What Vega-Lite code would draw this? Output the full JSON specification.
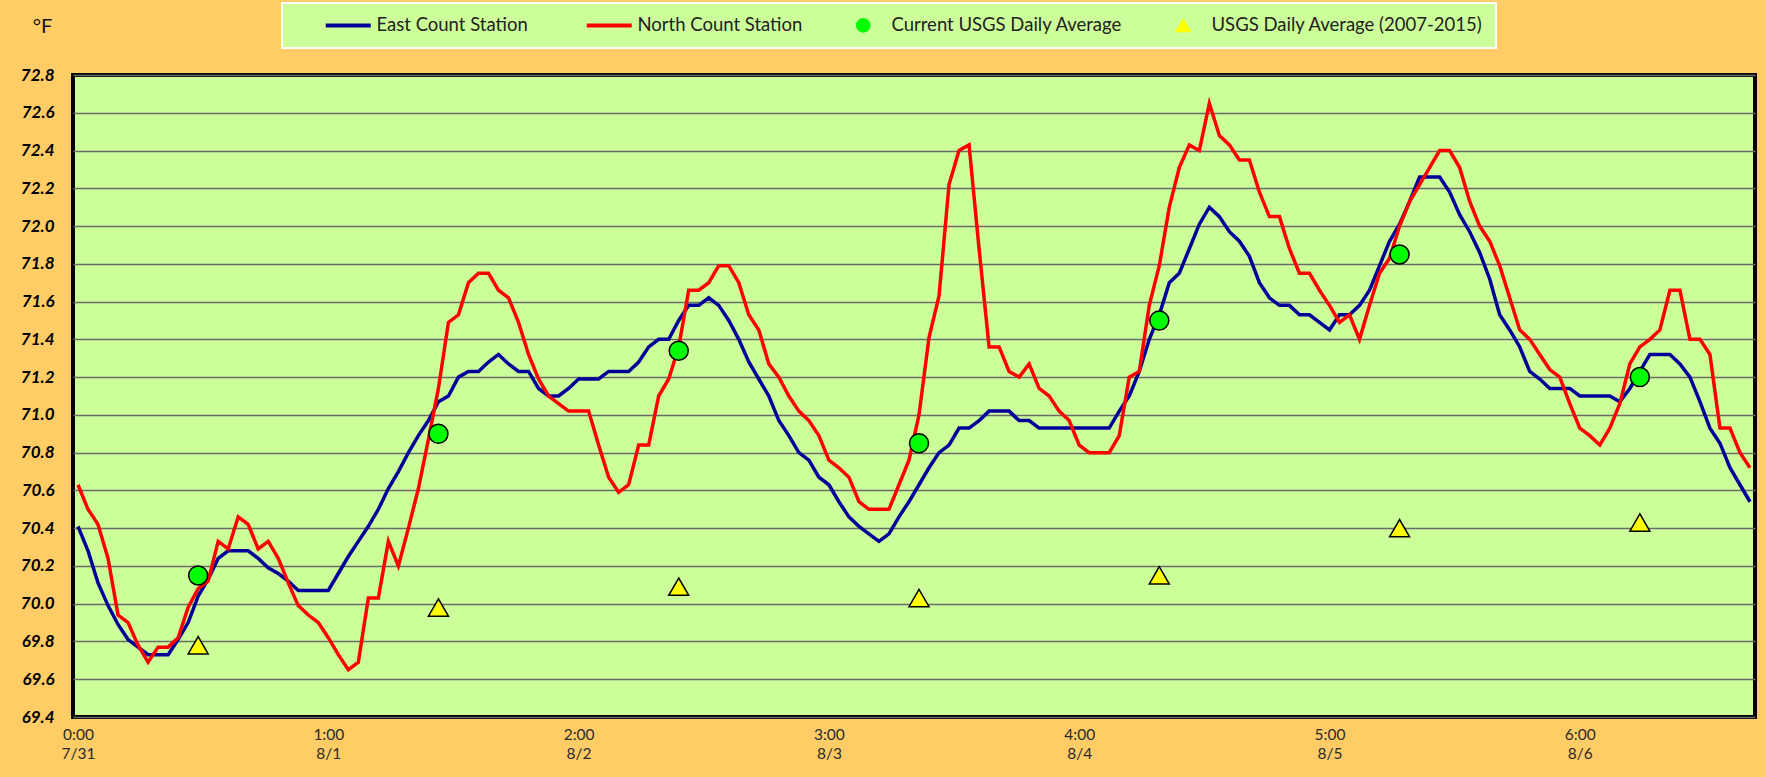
{
  "$schema": "https://vega.github.io/schema/vega-lite/v6.json",
  "width": 1682,
  "height": 642,
  "autosize": {"type": "none"},
  "padding": {"left": 73, "top": 75, "right": 10, "bottom": 60},
  "background": "#FFCC66",
  "config": {
    "font": "Lato",
    "view": {"fill": "#CCFF99", "stroke": "#000000", "strokeWidth": 4}
  },
  "datasets": {
    "hourly": [
      {"h":0,"e":70.41,"n":70.63},{"h":1,"e":70.28,"n":70.50},{"h":2,"e":70.11,"n":70.42},{"h":3,"e":69.99,"n":70.24},{"h":4,"e":69.89,"n":69.94},{"h":5,"e":69.81,"n":69.90},{"h":6,"e":69.77,"n":69.78},{"h":7,"e":69.73,"n":69.69},{"h":8,"e":69.73,"n":69.77},{"h":9,"e":69.73,"n":69.77},
      {"h":10,"e":69.81,"n":69.82},{"h":11,"e":69.90,"n":69.98},{"h":12,"e":70.04,"n":70.08},{"h":13,"e":70.13,"n":70.12},{"h":14,"e":70.24,"n":70.33},{"h":15,"e":70.28,"n":70.29},{"h":16,"e":70.28,"n":70.46},{"h":17,"e":70.28,"n":70.42},{"h":18,"e":70.24,"n":70.29},{"h":19,"e":70.19,"n":70.33},
      {"h":20,"e":70.16,"n":70.24},{"h":21,"e":70.12,"n":70.11},{"h":22,"e":70.07,"n":69.99},{"h":23,"e":70.07,"n":69.94},{"h":24,"e":70.07,"n":69.90},{"h":25,"e":70.07,"n":69.82},{"h":26,"e":70.16,"n":69.73},{"h":27,"e":70.25,"n":69.65},{"h":28,"e":70.33,"n":69.69},{"h":29,"e":70.41,"n":70.03},
      {"h":30,"e":70.50,"n":70.03},{"h":31,"e":70.61,"n":70.33},{"h":32,"e":70.70,"n":70.20},{"h":33,"e":70.80,"n":70.40},{"h":34,"e":70.89,"n":70.61},{"h":35,"e":70.97,"n":70.87},{"h":36,"e":71.07,"n":71.14},{"h":37,"e":71.10,"n":71.49},{"h":38,"e":71.20,"n":71.53},{"h":39,"e":71.23,"n":71.70},
      {"h":40,"e":71.23,"n":71.75},{"h":41,"e":71.28,"n":71.75},{"h":42,"e":71.32,"n":71.66},{"h":43,"e":71.27,"n":71.62},{"h":44,"e":71.23,"n":71.49},{"h":45,"e":71.23,"n":71.32},{"h":46,"e":71.14,"n":71.19},{"h":47,"e":71.10,"n":71.10},{"h":48,"e":71.10,"n":71.06},{"h":49,"e":71.14,"n":71.02},
      {"h":50,"e":71.19,"n":71.02},{"h":51,"e":71.19,"n":71.02},{"h":52,"e":71.19,"n":70.84},{"h":53,"e":71.23,"n":70.67},{"h":54,"e":71.23,"n":70.59},{"h":55,"e":71.23,"n":70.63},{"h":56,"e":71.28,"n":70.84},{"h":57,"e":71.36,"n":70.84},{"h":58,"e":71.40,"n":71.10},{"h":59,"e":71.40,"n":71.19},
      {"h":60,"e":71.50,"n":71.36},{"h":61,"e":71.58,"n":71.66},{"h":62,"e":71.58,"n":71.66},{"h":63,"e":71.62,"n":71.70},{"h":64,"e":71.58,"n":71.79},{"h":65,"e":71.50,"n":71.79},{"h":66,"e":71.40,"n":71.70},{"h":67,"e":71.28,"n":71.53},{"h":68,"e":71.19,"n":71.45},{"h":69,"e":71.10,"n":71.27},
      {"h":70,"e":70.97,"n":71.20},{"h":71,"e":70.89,"n":71.10},{"h":72,"e":70.80,"n":71.02},{"h":73,"e":70.76,"n":70.97},{"h":74,"e":70.67,"n":70.89},{"h":75,"e":70.63,"n":70.76},{"h":76,"e":70.54,"n":70.72},{"h":77,"e":70.46,"n":70.67},{"h":78,"e":70.41,"n":70.54},{"h":79,"e":70.37,"n":70.50},
      {"h":80,"e":70.33,"n":70.50},{"h":81,"e":70.37,"n":70.50},{"h":82,"e":70.46,"n":70.63},{"h":83,"e":70.54,"n":70.76},{"h":84,"e":70.63,"n":71.00},{"h":85,"e":70.72,"n":71.41},{"h":86,"e":70.80,"n":71.63},{"h":87,"e":70.84,"n":72.22},{"h":88,"e":70.93,"n":72.40},{"h":89,"e":70.93,"n":72.43},
      {"h":90,"e":70.97,"n":71.88},{"h":91,"e":71.02,"n":71.36},{"h":92,"e":71.02,"n":71.36},{"h":93,"e":71.02,"n":71.23},{"h":94,"e":70.97,"n":71.20},{"h":95,"e":70.97,"n":71.27},{"h":96,"e":70.93,"n":71.14},{"h":97,"e":70.93,"n":71.10},{"h":98,"e":70.93,"n":71.02},{"h":99,"e":70.93,"n":70.97},
      {"h":100,"e":70.93,"n":70.84},{"h":101,"e":70.93,"n":70.80},{"h":102,"e":70.93,"n":70.80},{"h":103,"e":70.93,"n":70.80},{"h":104,"e":71.02,"n":70.89},{"h":105,"e":71.10,"n":71.20},{"h":106,"e":71.23,"n":71.23},{"h":107,"e":71.40,"n":71.58},{"h":108,"e":71.53,"n":71.79},{"h":109,"e":71.70,"n":72.10},
      {"h":110,"e":71.75,"n":72.31},{"h":111,"e":71.88,"n":72.43},{"h":112,"e":72.01,"n":72.40},{"h":113,"e":72.10,"n":72.65},{"h":114,"e":72.05,"n":72.48},{"h":115,"e":71.97,"n":72.43},{"h":116,"e":71.92,"n":72.35},{"h":117,"e":71.84,"n":72.35},{"h":118,"e":71.70,"n":72.18},{"h":119,"e":71.62,"n":72.05},
      {"h":120,"e":71.58,"n":72.05},{"h":121,"e":71.58,"n":71.88},{"h":122,"e":71.53,"n":71.75},{"h":123,"e":71.53,"n":71.75},{"h":124,"e":71.49,"n":71.66},{"h":125,"e":71.45,"n":71.58},{"h":126,"e":71.53,"n":71.49},{"h":127,"e":71.53,"n":71.53},{"h":128,"e":71.58,"n":71.40},{"h":129,"e":71.66,"n":71.58},
      {"h":130,"e":71.79,"n":71.75},{"h":131,"e":71.92,"n":71.83},{"h":132,"e":72.01,"n":72.00},{"h":133,"e":72.13,"n":72.13},{"h":134,"e":72.26,"n":72.22},{"h":135,"e":72.26,"n":72.31},{"h":136,"e":72.26,"n":72.40},{"h":137,"e":72.18,"n":72.40},{"h":138,"e":72.06,"n":72.31},{"h":139,"e":71.97,"n":72.13},
      {"h":140,"e":71.86,"n":72.00},{"h":141,"e":71.72,"n":71.92},{"h":142,"e":71.53,"n":71.79},{"h":143,"e":71.45,"n":71.62},{"h":144,"e":71.36,"n":71.45},{"h":145,"e":71.23,"n":71.40},{"h":146,"e":71.19,"n":71.32},{"h":147,"e":71.14,"n":71.24},{"h":148,"e":71.14,"n":71.20},{"h":149,"e":71.14,"n":71.06},
      {"h":150,"e":71.10,"n":70.93},{"h":151,"e":71.10,"n":70.89},{"h":152,"e":71.10,"n":70.84},{"h":153,"e":71.10,"n":70.93},{"h":154,"e":71.07,"n":71.06},{"h":155,"e":71.14,"n":71.27},{"h":156,"e":71.23,"n":71.36},{"h":157,"e":71.32,"n":71.40},{"h":158,"e":71.32,"n":71.45},{"h":159,"e":71.32,"n":71.66},
      {"h":160,"e":71.27,"n":71.66},{"h":161,"e":71.20,"n":71.40},{"h":162,"e":71.07,"n":71.40},{"h":163,"e":70.93,"n":71.32},{"h":164,"e":70.85,"n":70.93},{"h":165,"e":70.72,"n":70.93},{"h":166,"e":70.63,"n":70.80},{"h":167,"e":70.54,"n":70.72}
    ],
    "daily": [
      {"h":12,"c":70.15,"t":69.78},
      {"h":36,"c":70.90,"t":69.98},
      {"h":60,"c":71.34,"t":70.09},
      {"h":84,"c":70.85,"t":70.03},
      {"h":108,"c":71.50,"t":70.15},
      {"h":132,"c":71.85,"t":70.40},
      {"h":156,"c":71.20,"t":70.43}
    ]
  },
  "layer": [
    {
      "data": {"name": "hourly"},
      "mark": {"type": "line", "strokeWidth": 3.5},
      "encoding": {
        "x": {
          "field": "h", "type": "quantitative", "title": null,
          "scale": {"domain": [-0.5, 167.5], "nice": false, "zero": false},
          "axis": {
            "values": [0, 25, 50, 75, 100, 125, 150],
            "tickCount": 40,
            "labelExpr": "[toString(floor(datum.value/25)) + ':00', ['7/31','8/1','8/2','8/3','8/4','8/5','8/6'][floor(datum.value/25)]]",
            "labelFont": "Lato", "labelFontSize": 15.5, "labelColor": "#2a2a2a",
            "labelPadding": 10, "labelLineHeight": 19,
            "ticks": false, "domain": false, "grid": false,
            "labelFlush": false, "labelOverlap": false
          }
        },
        "y": {
          "field": "e", "type": "quantitative", "title": "°F",
          "scale": {"domain": [69.4, 72.8], "nice": false, "zero": false},
          "axis": {
            "values": [69.4, 69.6, 69.8, 70.0, 70.2, 70.4, 70.6, 70.8, 71.0, 71.2, 71.4, 71.6, 71.8, 72.0, 72.2, 72.4, 72.6, 72.8],
            "tickCount": 40,
            "format": ".1f",
            "labelFont": "Lato", "labelFontSize": 17, "labelFontWeight": "bold", "labelFontStyle": "italic",
            "labelColor": "#000000", "labelPadding": 19,
            "ticks": false, "domain": false, "grid": true,
            "gridColor": "#6b6b6b", "gridWidth": 1.3,
            "labelFlush": false, "labelOverlap": false,
            "titleAngle": 0, "titleX": -31, "titleY": -49,
            "titleAlign": "center", "titleBaseline": "middle",
            "titleFont": "Lato", "titleFontSize": 20, "titleFontWeight": "normal", "titleColor": "#111111"
          }
        },
        "color": {
          "datum": "East Count Station", "type": "nominal",
          "scale": {
            "domain": ["East Count Station", "North Count Station", "Current USGS Daily Average", "USGS Daily Average (2007-2015)"],
            "range": ["#000099", "#FF0000", "#00FF00", "#FFFF00"]
          },
          "legend": {
            "title": " ", "titleOrient": "left", "titlePadding": 44, "titleFontSize": 4,
            "orient": "none", "legendX": 209, "legendY": -72, "direction": "horizontal",
            "fillColor": "#CCFF99", "strokeColor": "#FFFFFF", "padding": 13,
            "labelFont": "Lato", "labelFontSize": 18.5, "labelColor": "#222222", "labelLimit": 400,
            "symbolSize": 2025, "symbolStrokeWidth": 2,
            "labelOffset": 19, "columnPadding": 50,
            "encode": {
              "legend": {"update": {"strokeWidth": {"value": 2}}},
              "symbols": {
                "update": {
                  "shape": {"signal": "datum.value == 'Current USGS Daily Average' ? 'M-0.29,0A0.29,0.29 0 1,0 0.29,0A0.29,0.29 0 1,0 -0.29,0Z' : datum.value == 'USGS Daily Average (2007-2015)' ? 'M0,-0.27L0.31,0.27L-0.31,0.27Z' : 'M-1,0L1,0'"},
                  "stroke": {"signal": "datum.value == 'East Count Station' ? '#000099' : datum.value == 'North Count Station' ? '#FF0000' : '#000000'"},
                  "strokeWidth": {"signal": "datum.value == 'East Count Station' || datum.value == 'North Count Station' ? 4 : 1.5"},
                  "fill": {"signal": "datum.value == 'Current USGS Daily Average' ? '#00FF00' : datum.value == 'USGS Daily Average (2007-2015)' ? '#FFFF00' : 'transparent'"},
                  "opacity": {"value": 1}
                }
              }
            }
          }
        }
      }
    },
    {
      "data": {"name": "hourly"},
      "mark": {"type": "line", "strokeWidth": 3.5},
      "encoding": {
        "x": {"field": "h", "type": "quantitative", "title": null},
        "y": {"field": "n", "type": "quantitative", "title": "°F"},
        "color": {"datum": "North Count Station", "type": "nominal"}
      }
    },
    {
      "data": {"name": "daily"},
      "mark": {"type": "point", "shape": "circle", "filled": true, "size": 361, "stroke": "#000000", "strokeWidth": 1.5, "opacity": 1},
      "encoding": {
        "x": {"field": "h", "type": "quantitative", "title": null},
        "y": {"field": "c", "type": "quantitative", "title": "°F"},
        "color": {"datum": "Current USGS Daily Average", "type": "nominal"}
      }
    },
    {
      "data": {"name": "daily"},
      "mark": {"type": "point", "shape": "triangle-up", "filled": true, "size": 400, "stroke": "#000000", "strokeWidth": 1.5, "opacity": 1},
      "encoding": {
        "x": {"field": "h", "type": "quantitative", "title": null},
        "y": {"field": "t", "type": "quantitative", "title": "°F"},
        "color": {"datum": "USGS Daily Average (2007-2015)", "type": "nominal"}
      }
    }
  ]
}
